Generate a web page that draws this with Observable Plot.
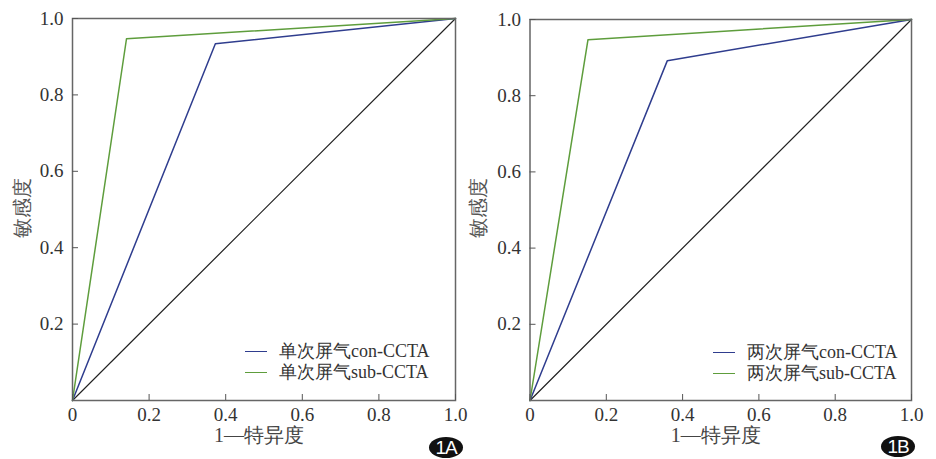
<!DOCTYPE html>
<html><head><meta charset="utf-8">
<script src="https://cdn.jsdelivr.net/npm/d3@7"></script>
<script src="https://cdn.jsdelivr.net/npm/@observablehq/plot@0.6"></script>
<style>
body{margin:0;background:#fff;}
#wrap{position:relative;width:936px;height:459px;overflow:hidden;background:#fff;}
.panel{position:absolute;top:0;background:transparent !important;}
.leg{position:absolute;font-family:"Liberation Serif","Times New Roman",serif;font-size:18px;color:#333;line-height:20px;white-space:nowrap;}
.leg .sw{display:inline-block;width:22px;height:0;border-top:1.5px solid;vertical-align:middle;margin-right:12px;position:relative;top:-1px;}
.badge{position:absolute;width:34px;height:21px;border-radius:50%;background:#111;color:#fff;font-family:"Liberation Sans",Arial,sans-serif;font-size:19px;line-height:21px;text-align:center;letter-spacing:-1px;}
</style></head>
<body><div id="wrap"></div>
<script>
// tick values and labels
const xTicks = [0, 0.2, 0.4, 0.6, 0.8, 1.0];
const xTickLabels = ["0", "0.2", "0.4", "0.6", "0.8", "1.0"];
const yTicks = [0.2, 0.4, 0.6, 0.8, 1.0];
const yTickLabels = ["0.2", "0.4", "0.6", "0.8", "1.0"];
const xTitle = "1—特异度";
const yTitle = "敏感度";

// reference diagonal
const refX = [0, 1];
const refY = [0, 1];

// Panel 1A
const aConX = [0, 0.373, 1];
const aConY = [0, 0.934, 1];
const aSubX = [0, 0.141, 1];
const aSubY = [0, 0.947, 1];
const aLegend = ["单次屏气con-CCTA", "单次屏气sub-CCTA"];
const aBadge = "1A";

// Panel 1B
const bConX = [0, 0.36, 1];
const bConY = [0, 0.892, 1];
const bSubX = [0, 0.152, 1];
const bSubY = [0, 0.947, 1];
const bLegend = ["两次屏气con-CCTA", "两次屏气sub-CCTA"];
const bBadge = "1B";

const conColor = "#2f3d8e";
const subColor = "#5e9d3c";
const refColor = "#222";
const FONT = "Liberation Serif";

function pts(xs, ys) { return xs.map((x, i) => ({x, y: ys[i]})); }

function panel(opts) {
  const {conX, conY, subX, subY, width, marginLeft, marginRight, marginTop, ylabelDx} = opts;
  const fmtX = d => xTickLabels[xTicks.indexOf(d)];
  const fmtY = d => yTickLabels[yTicks.indexOf(d)];
  return Plot.plot({
    width, height: 459,
    marginLeft, marginRight, marginTop, marginBottom: 59,
    style: {fontSize: "18px", color: "#333", background: "transparent"},
    x: {domain: [0, 1]},
    y: {domain: [0, 1]},
    marks: [
      Plot.line(pts(refX, refY), {x: "x", y: "y", stroke: refColor, strokeWidth: 1.2}),
      Plot.line(pts(conX, conY), {x: "x", y: "y", stroke: conColor, strokeWidth: 1.5}),
      Plot.line(pts(subX, subY), {x: "x", y: "y", stroke: subColor, strokeWidth: 1.5}),
      Plot.frame({stroke: "#666", strokeWidth: 1.5}),
      Plot.axisX(xTicks, {anchor: "bottom", tickSize: -6, tickPadding: 13, tickFormat: fmtX, label: null, stroke: "#555", fill: "#333", fontFamily: FONT, fontSize: 19}),
      Plot.axisY(yTicks, {anchor: "left", tickSize: -6, tickPadding: 15, tickFormat: fmtY, label: null, stroke: "#555", fill: "#333", fontFamily: FONT, fontSize: 19}),
      Plot.text([xTitle], {frameAnchor: "bottom", dx: -5, dy: 41, fontSize: 20, fill: "#444", fontFamily: FONT}),
      Plot.text([yTitle], {frameAnchor: "left", dx: ylabelDx, dy: 28, rotate: -90, fontSize: 20, fill: "#555", fontFamily: FONT})
    ]
  });
}

const wrap = document.getElementById("wrap");

function addPanel(left, plotOpts, legend, legPos, badge, badgePos) {
  const p = panel(plotOpts);
  p.classList.add("panel");
  p.style.left = left + "px";
  p.setAttribute("font-family", FONT);
  wrap.appendChild(p);
  [conColor, subColor].forEach((c, i) => {
    const d = document.createElement("div");
    d.className = "leg";
    d.style.left = legPos[0] + "px";
    d.style.top = (legPos[1] + i * 21) + "px";
    const sw = document.createElement("span");
    sw.className = "sw";
    sw.style.borderColor = c;
    d.appendChild(sw);
    d.appendChild(document.createTextNode(legend[i]));
    wrap.appendChild(d);
  });
  const b = document.createElement("div");
  b.className = "badge";
  b.style.left = badgePos[0] + "px";
  b.style.top = badgePos[1] + "px";
  b.textContent = badge;
  wrap.appendChild(b);
}

addPanel(0, {conX: aConX, conY: aConY, subX: aSubX, subY: aSubY, width: 475, marginLeft: 72, marginRight: 20, marginTop: 18, ylabelDx: -50},
  aLegend, [245, 341], aBadge, [429, 437]);
addPanel(460, {conX: bConX, conY: bConY, subX: bSubX, subY: bSubY, width: 476, marginLeft: 69.5, marginRight: 25, marginTop: 19, ylabelDx: -51},
  bLegend, [713, 342], bBadge, [881, 436]);
</script>
</body></html>
